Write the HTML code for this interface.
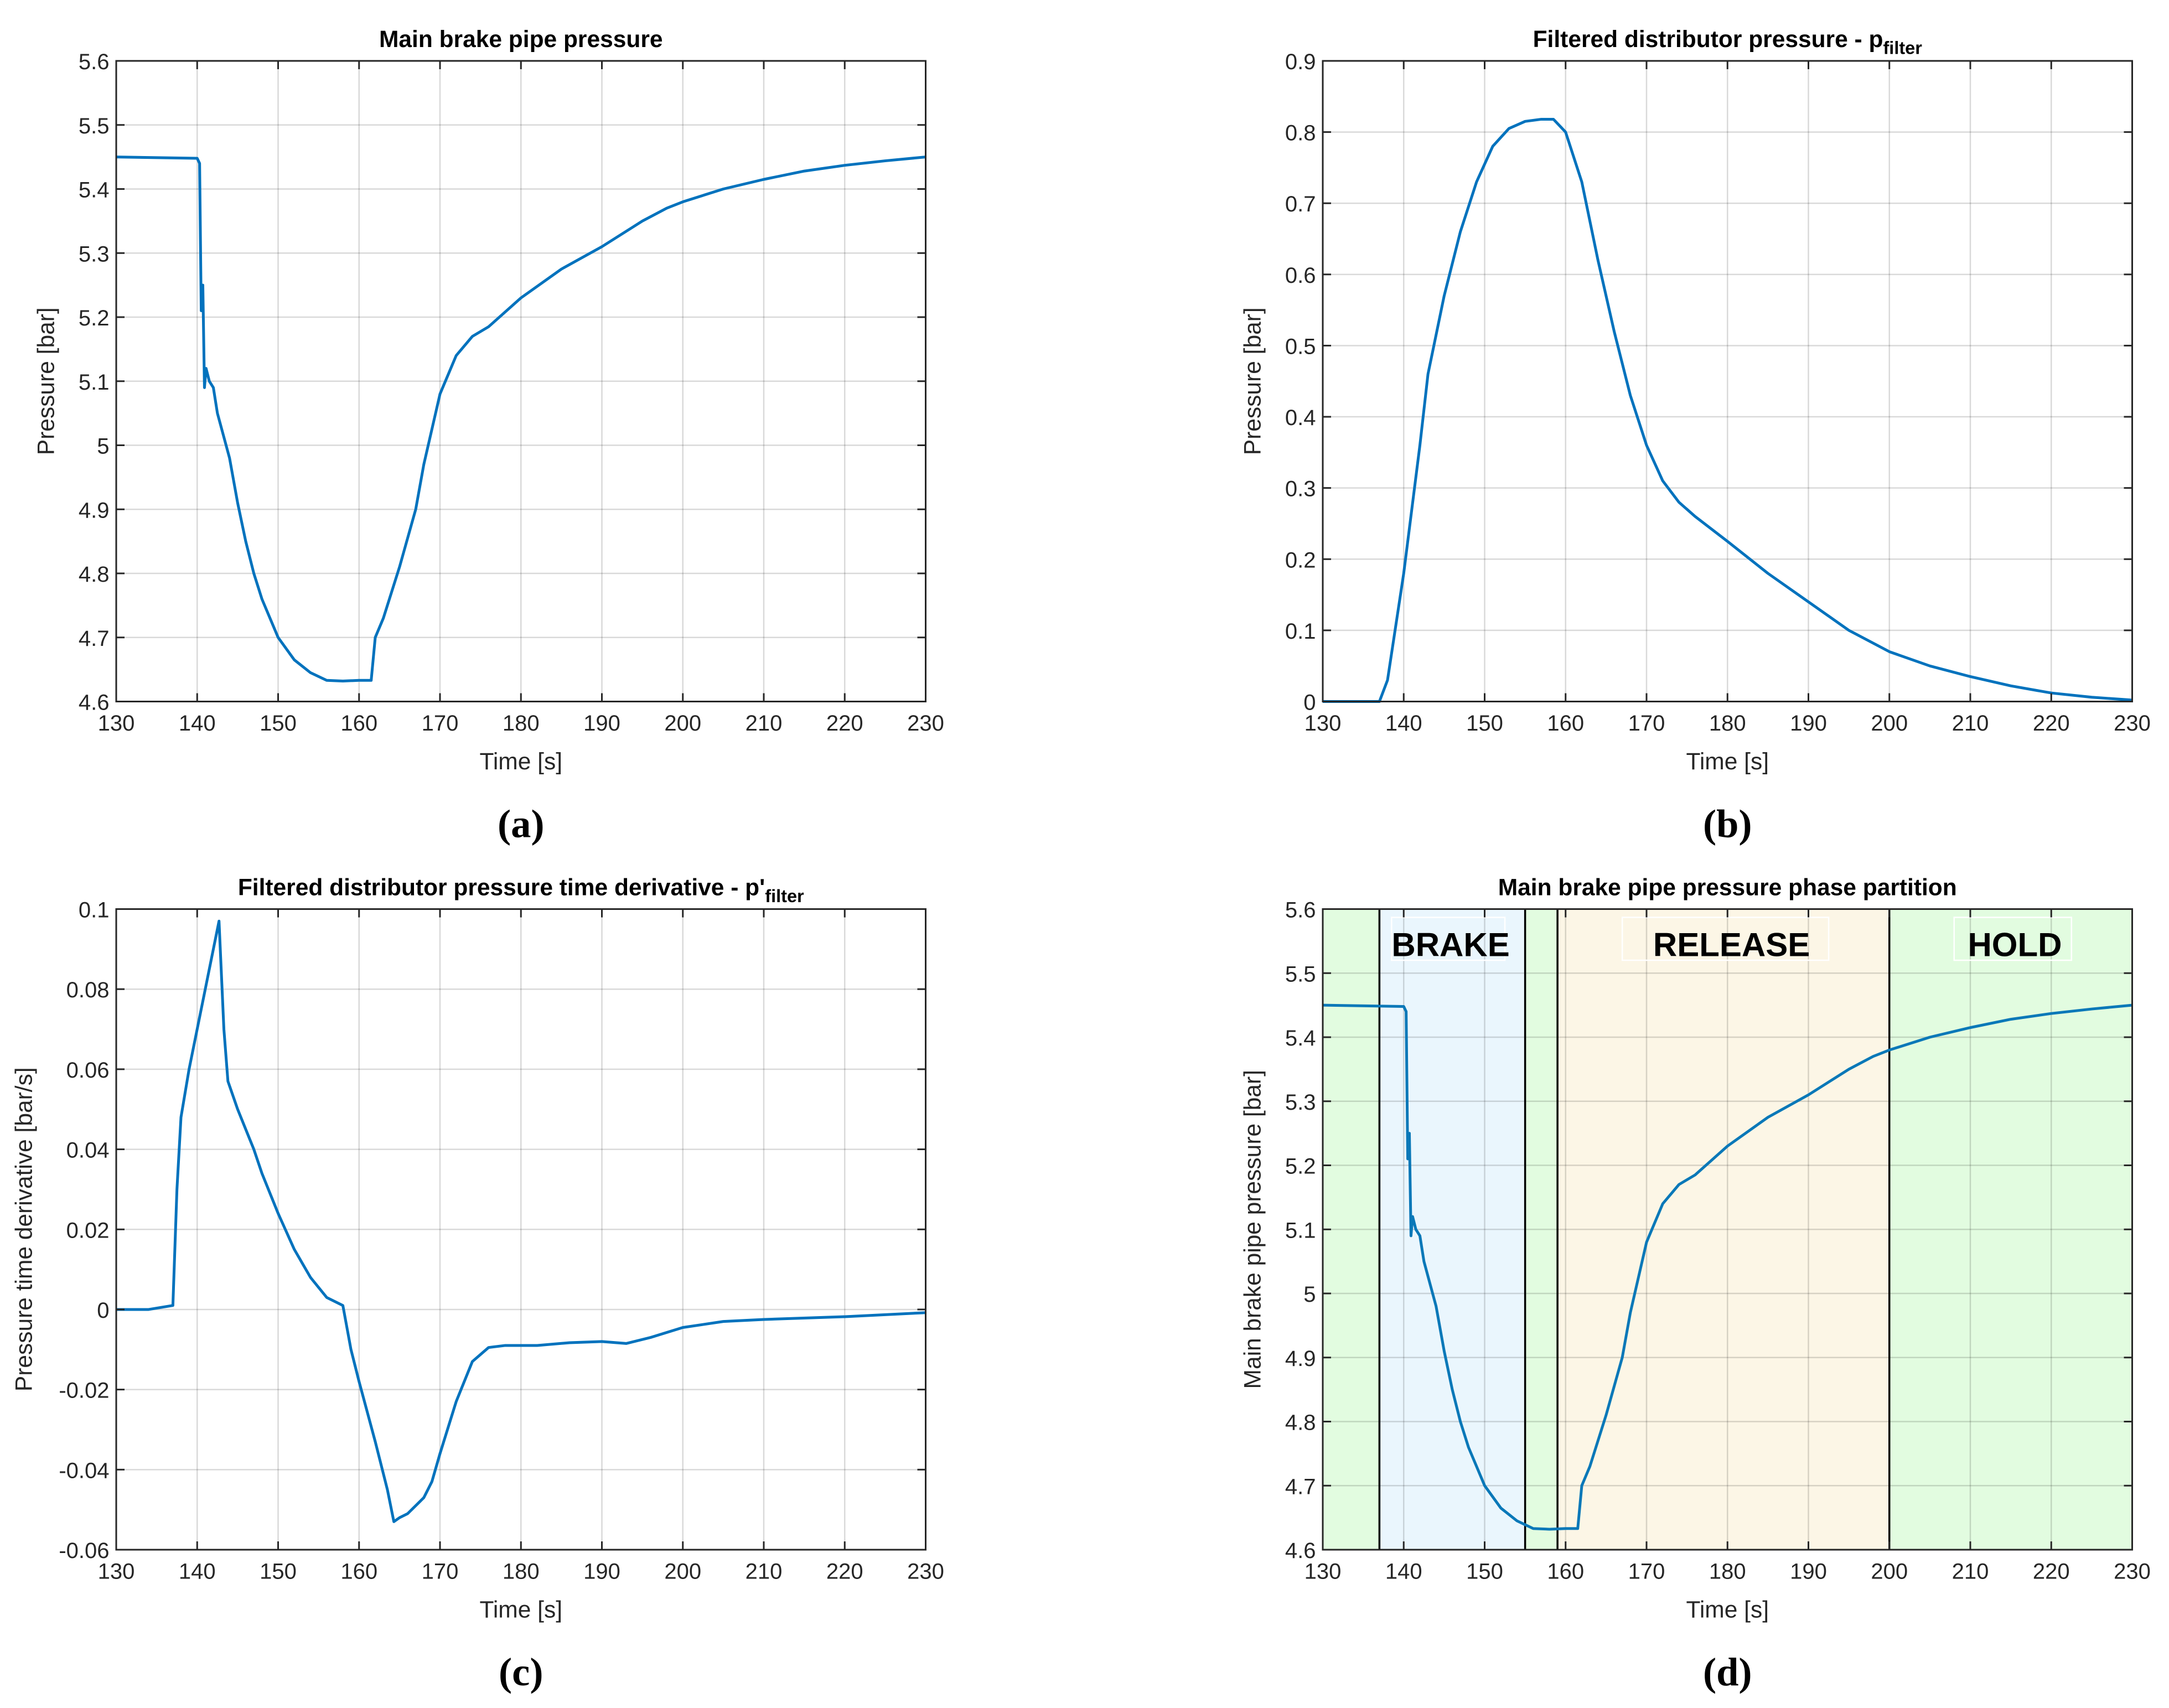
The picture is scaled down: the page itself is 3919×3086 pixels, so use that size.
<!DOCTYPE html>
<html><head><meta charset="utf-8"><style>
html,body{margin:0;padding:0;background:#fff;}
svg{display:block;}
text{font-family:"Liberation Sans",Arial,sans-serif;fill:#262626;}
</style></head><body>
<svg id="fig" xmlns="http://www.w3.org/2000/svg" width="3919" height="3086" viewBox="0 0 1567.6 1234.4"></svg>
<script>
// shared axis data
const xTicks = [130,140,150,160,170,180,190,200,210,220,230];
const yTicksA = [4.6,4.7,4.8,4.9,5,5.1,5.2,5.3,5.4,5.5,5.6];
const yTicksB = [0,0.1,0.2,0.3,0.4,0.5,0.6,0.7,0.8,0.9];
const yTicksC = [-0.06,-0.04,-0.02,0,0.02,0.04,0.06,0.08,0.1];
// series (a) & (d): main brake pipe pressure
const pipeT = [130,140,140.3,140.5,140.7,140.9,141.1,141.5,142,142.5,144,145,146,147,148,150,152,154,156,158,160,161.5,162,163,165,167,168,170,172,174,176,180,185,190,195,198,200,205,210,215,220,225,230];
const pipeP = [5.45,5.448,5.44,5.21,5.25,5.09,5.12,5.10,5.09,5.05,4.98,4.91,4.85,4.80,4.76,4.70,4.665,4.645,4.633,4.632,4.633,4.633,4.70,4.73,4.81,4.90,4.97,5.08,5.14,5.17,5.185,5.23,5.275,5.31,5.35,5.37,5.38,5.40,5.415,5.428,5.437,5.444,5.45];
// series (b): filtered distributor pressure
const filtT = [130,137,138,140,142,143,145,147,149,151,153,155,157,158.5,160,162,164,166,168,170,172,174,176,180,185,190,195,200,205,210,215,220,225,230];
const filtP = [0,0,0.03,0.18,0.36,0.46,0.57,0.66,0.73,0.78,0.805,0.815,0.818,0.818,0.80,0.73,0.62,0.52,0.43,0.36,0.31,0.28,0.26,0.225,0.18,0.14,0.10,0.07,0.05,0.035,0.022,0.012,0.006,0.002];
// series (c): derivative
const derT = [130,134,137,137.5,138,139,140,141,142,142.7,143.3,143.8,145,146,147,148,150,152,154,156,158,159,160,162,163.5,164.3,165,166,168,169,170,172,174,176,178,182,186,190,193,196,200,205,210,220,230];
const derV = [0,0,0.001,0.03,0.048,0.06,0.07,0.08,0.09,0.097,0.07,0.057,0.05,0.045,0.04,0.034,0.024,0.015,0.008,0.003,0.001,-0.01,-0.018,-0.033,-0.045,-0.053,-0.052,-0.051,-0.047,-0.043,-0.036,-0.023,-0.013,-0.0095,-0.009,-0.009,-0.0083,-0.008,-0.0085,-0.007,-0.0045,-0.003,-0.0025,-0.0018,-0.0008];
// phases (d)
const phaseNames = ['pre','BRAKE','gap','RELEASE','HOLD'];
const phaseStart = [130,137,155,159,200];
const phaseEnd = [137,155,159,200,230];
const phaseColor = ['#e2fce0','#eaf6fd','#e2fce0','#fcf6e6','#e2fce0'];
const phaseLines = [137,155,159,200];

const NS='http://www.w3.org/2000/svg';
const svg=document.getElementById('fig');
function mk(tag,attrs,parent){const e=document.createElementNS(NS,tag);for(const k in attrs)e.setAttribute(k,attrs[k]);(parent||svg).appendChild(e);return e;}
function fmt(v){return String(+v.toFixed(4));}

function panel(id,L,R,T,B,yMin,yMax,yTicks,title,sub,ylab,ylabX,letter,T2,V2,phases){
  const g=mk('g',{});
  
  
  const sx=v=>L+(v-130)/(230-130)*(R-L);
  const sy=v=>B-(v-yMin)/(yMax-yMin)*(B-T);
  mk('rect',{x:L,y:T,width:R-L,height:B-T,fill:'#fff'},g);
  if(phases){
    for(let i=0;i<phaseStart.length;i++){
      const r=mk('rect',{x:sx(phaseStart[i]),y:T,width:sx(phaseEnd[i])-sx(phaseStart[i]),height:B-T,fill:phaseColor[i]},g);
      
      
    }
  }
  const grid=mk('g',{stroke:'#000','stroke-opacity':0.15,'stroke-width':1},g);
  
  
  xTicks.forEach(v=>mk('line',{x1:sx(v),x2:sx(v),y1:T,y2:B},grid));
  yTicks.forEach(v=>mk('line',{x1:L,x2:R,y1:sy(v),y2:sy(v)},grid));
  if(phases){
    const labs=[['BRAKE',145.8,138.5,152.5],['RELEASE',180.5,167,192.5],['HOLD',215.5,208,222.5]];
    labs.forEach(l=>{
      mk('rect',{x:sx(l[2]),y:T+6,width:sx(l[3])-sx(l[2]),height:31,fill:'none',stroke:'#fff','stroke-width':1},g);
      const t=mk('text',{x:sx(l[1]),y:T+34,'text-anchor':'middle','font-size':24,'font-weight':'bold'},g);
      t.textContent=l[0];
      t.style.fill='#000';
      
      
    });
    phaseLines.forEach(v=>{
      const ln=mk('line',{x1:sx(v),x2:sx(v),y1:T,y2:B,stroke:'#000','stroke-width':1.4},g);
      
      
    });
  }
  let d='';
  for(let i=0;i<T2.length;i++) d+=(i?'L':'M')+sx(T2[i]).toFixed(2)+' '+sy(V2[i]).toFixed(2);
  const p=mk('path',{d:d,fill:'none',stroke:phases?'#0a78b8':'#0072BD','stroke-width':2,'stroke-linejoin':'round'},g);
  
  
  const ax=mk('g',{stroke:'#262626','stroke-width':1.2},g);
  
  
  mk('rect',{x:L,y:T,width:R-L,height:B-T,fill:'none'},ax);
  xTicks.forEach(v=>{mk('line',{x1:sx(v),x2:sx(v),y1:B,y2:B-6},ax);mk('line',{x1:sx(v),x2:sx(v),y1:T,y2:T+6},ax);});
  yTicks.forEach(v=>{mk('line',{x1:L,x2:L+6,y1:sy(v),y2:sy(v)},ax);mk('line',{x1:R,x2:R-6,y1:sy(v),y2:sy(v)},ax);});
  xTicks.forEach(v=>{const t=mk('text',{x:sx(v),y:B+21,'text-anchor':'middle','font-size':16},g);t.textContent=fmt(v);
    
    });
  yTicks.forEach(v=>{const t=mk('text',{x:L-5,y:sy(v)+6,'text-anchor':'end','font-size':16},g);t.textContent=fmt(v);
    
    });
  const xl=mk('text',{x:(L+R)/2,y:B+49,'text-anchor':'middle','font-size':17},g);xl.textContent='Time [s]';
  
  
  const yl=mk('text',{x:0,y:0,'text-anchor':'middle','font-size':17,transform:`translate(${ylabX},${(T+B)/2}) rotate(-90)`},g);yl.textContent=ylab;
  
  
  const ti=mk('text',{x:(L+R)/2,y:T-10,'text-anchor':'middle','font-size':17,'font-weight':'bold'},g);
  
  
  ti.style.fill='#000';
  ti.appendChild(document.createTextNode(title));
  if(sub){const ts=mk('tspan',{'font-size':13,dy:5},ti);ts.textContent=sub;}
  const lt=mk('text',{x:(L+R)/2,y:B+98,'text-anchor':'middle','font-size':29,'font-weight':'bold',style:'font-family:"Liberation Serif",serif;fill:#000'},g);lt.textContent=letter;
  
  
}
panel('panel-a',84,669,44,507,4.6,5.6,yTicksA,'Main brake pipe pressure','','Pressure [bar]',39,'(a)',pipeT,pipeP,false);
panel('panel-b',956,1541,44,507,0,0.9,yTicksB,'Filtered distributor pressure - p','filter','Pressure [bar]',911,'(b)',filtT,filtP,false);
panel('panel-c',84,669,657,1120,-0.06,0.1,yTicksC,"Filtered distributor pressure time derivative - p'",'filter','Pressure time derivative [bar/s]',23,'(c)',derT,derV,false);
panel('panel-d',956,1541,657,1120,4.6,5.6,yTicksA,'Main brake pipe pressure phase partition','','Main brake pipe pressure [bar]',911,'(d)',pipeT,pipeP,true);
</script>
</body></html>
